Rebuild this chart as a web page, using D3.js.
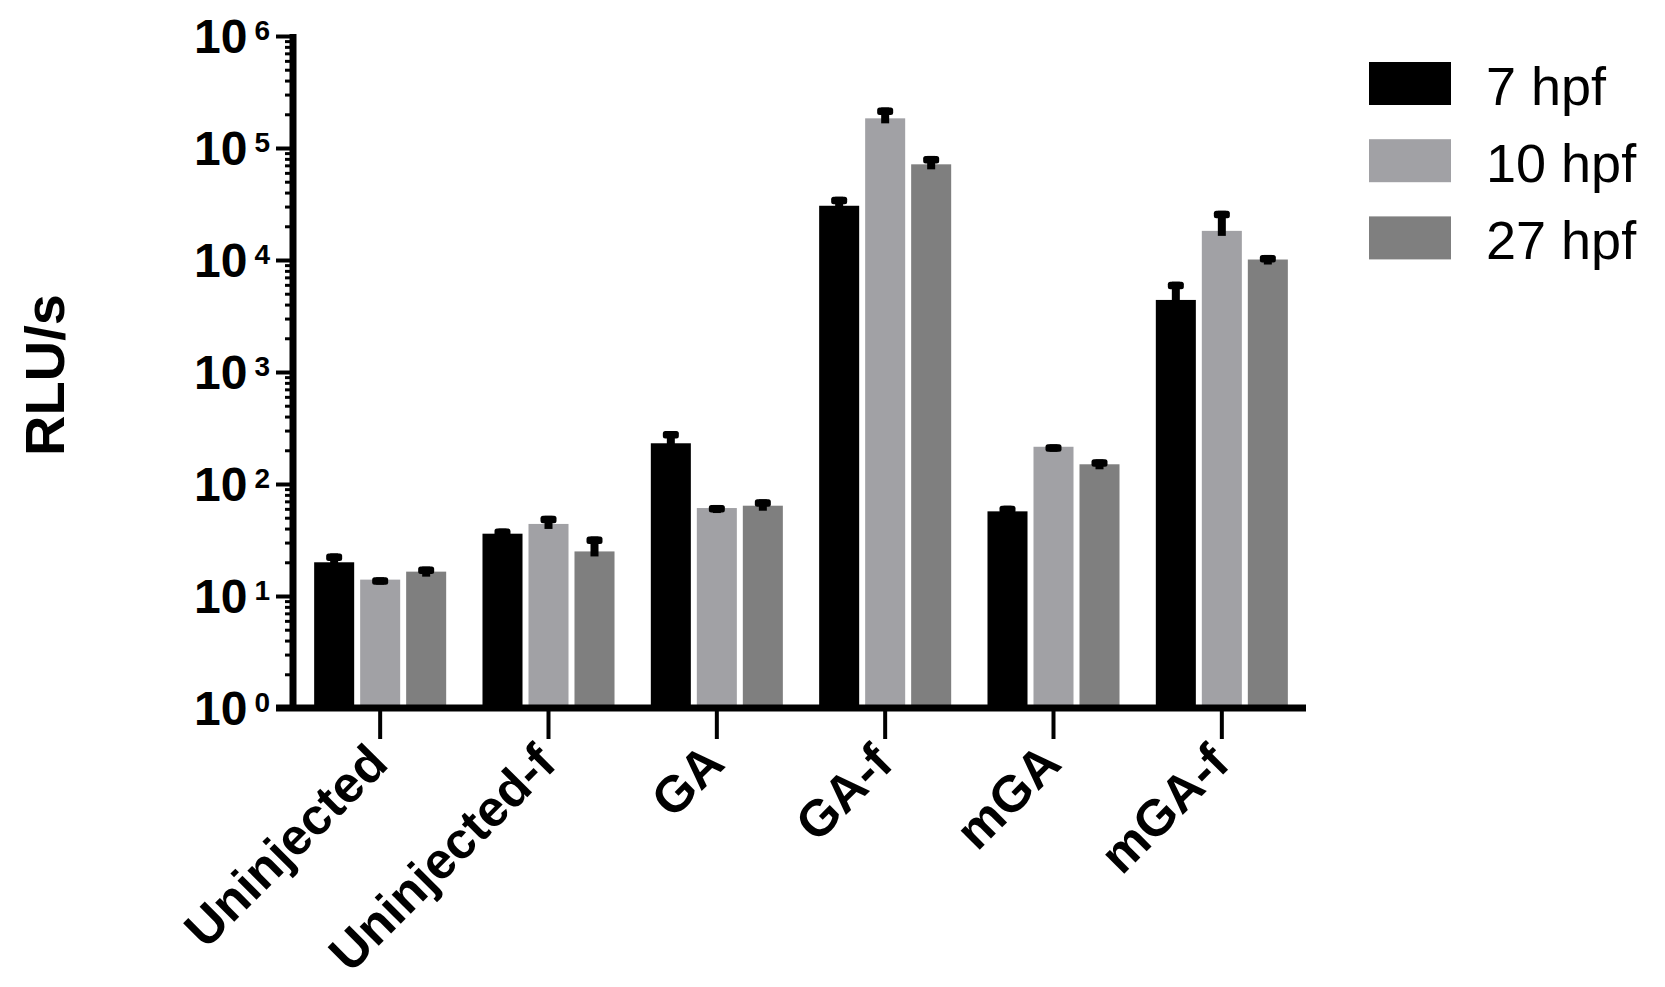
<!DOCTYPE html>
<html>
<head>
<meta charset="utf-8">
<script src="https://cdn.jsdelivr.net/npm/d3@7"></script>
<style>
  html, body { margin: 0; padding: 0; background: #fff; }
  svg { display: block; }
  text { font-family: "Liberation Sans", Arial, sans-serif; fill: #000; }
</style>
</head>
<body>
<svg id="chart" width="1665" height="987"></svg>
<script>
// ---- data ----
const categories = ["Uninjected", "Uninjected-f", "GA", "GA-f", "mGA", "mGA-f"];
const seriesNames = ["7 hpf", "10 hpf", "27 hpf"];
const values7  = [20, 36, 231, 30500, 57, 4400];
const values10 = [14, 44, 61, 184000, 215, 18200];
const values27 = [16.5, 25, 64, 71500, 150, 10100];
const errors7  = [4, 4, 66, 6200, 7, 2000];
const errors10 = [0.7, 8, 4, 46000, 11, 9300];
const errors27 = [1.8, 9, 9, 13500, 16, 1000];
const yTickValues = [1, 10, 100, 1000, 10000, 100000, 1000000];
const yTickExponents = ["0", "1", "2", "3", "4", "5", "6"];
const seriesColors = ["#000000", "#a1a1a5", "#7f7f7f"];

const seriesValues = [values7, values10, values27];
const seriesErrors = [errors7, errors10, errors27];
const rows = [];
categories.forEach((c, i) => {
  seriesNames.forEach((s, j) => {
    rows.push({ cat: c, series: s, si: j, value: seriesValues[j][i], err: seriesErrors[j][i] });
  });
});

// ---- layout ----
const svg = d3.select("#chart");
svg.append("rect").attr("width", 1665).attr("height", 987).attr("fill", "#fff");

const axisX = 293, axisY = 708, plotTop = 36, plotRight = 1306;

const x = d3.scaleBand().domain(categories).range([axisX + 3, plotRight])
  .paddingInner(0.2157).paddingOuter(0.2157 / 2);
const xs = d3.scaleBand().domain(seriesNames).range([0, x.bandwidth()]).paddingInner(0.13);
const y = d3.scaleLog().domain([1, 1e6]).range([axisY, plotTop]);
const color = d3.scaleOrdinal().domain(seriesNames).range(seriesColors);

// bars
svg.append("g").selectAll("rect").data(rows).join("rect")
  .attr("x", d => x(d.cat) + xs(d.series))
  .attr("width", xs.bandwidth())
  .attr("y", d => y(d.value))
  .attr("height", d => axisY - y(d.value))
  .attr("fill", d => color(d.series));

// error bars
const eg = svg.append("g");
rows.forEach(d => {
  const cx = x(d.cat) + xs(d.series) + xs.bandwidth() / 2;
  const yTop = y(d.value + d.err);
  const yVal = y(d.value);
  eg.append("rect").attr("x", cx - 4).attr("width", 8)
    .attr("y", yTop).attr("height", Math.max(0, yVal + 5 - yTop)).attr("fill", "#000");
  eg.append("rect").attr("x", cx - 8).attr("width", 16)
    .attr("y", yTop).attr("height", 7.5).attr("rx", 2.5).attr("fill", "#000");
});

// minor y ticks
const minorTicks = [];
for (let k = 0; k < 6; k++) for (let m = 2; m <= 9; m++) minorTicks.push(m * Math.pow(10, k));
const yMinor = svg.append("g").attr("transform", `translate(${axisX},0)`)
  .call(d3.axisLeft(y).tickValues(minorTicks).tickSize(8).tickSizeOuter(0).tickFormat(""));
yMinor.select(".domain").remove();
yMinor.selectAll(".tick line").attr("stroke", "#000").attr("stroke-width", 3);

// major y ticks + axis line
const yAxis = svg.append("g").attr("transform", `translate(${axisX},0)`)
  .call(d3.axisLeft(y).tickValues(yTickValues).tickSize(17).tickSizeOuter(0).tickFormat(""));
yAxis.select(".domain").attr("stroke", "#000").attr("stroke-width", 7)
  .attr("d", `M0,${plotTop - 2}V${axisY}`);
yAxis.selectAll(".tick line").attr("stroke", "#000").attr("stroke-width", 4);

// y tick labels with superscripts
const yl = svg.append("g");
yTickValues.forEach((v, i) => {
  const t = yl.append("text")
    .attr("x", 270).attr("y", y(v) + 17)
    .attr("text-anchor", "end")
    .attr("font-weight", "bold").attr("font-size", 48);
  t.append("tspan").text("10");
  t.append("tspan").attr("dx", 7).attr("dy", -13).attr("font-size", 28).text(yTickExponents[i]);
});

// x axis
const xAxis = svg.append("g").attr("transform", `translate(0,${axisY})`)
  .call(d3.axisBottom(x).tickSize(31).tickSizeOuter(0).tickFormat(""));
xAxis.select(".domain").attr("stroke", "#000").attr("stroke-width", 7)
  .attr("d", `M276,0H${plotRight}`);
xAxis.selectAll(".tick line").attr("stroke", "#000").attr("stroke-width", 4);

// x labels rotated
svg.append("g").selectAll("text").data(categories).join("text")
  .attr("text-anchor", "end")
  .attr("font-weight", "bold").attr("font-size", 51)
  .attr("transform", d => `translate(${x(d) + x.bandwidth() / 2 + 10},${axisY + 58}) rotate(-45)`)
  .text(d => d);

// y title
svg.append("text")
  .attr("transform", "translate(64,375) rotate(-90)")
  .attr("text-anchor", "middle")
  .attr("font-weight", "bold").attr("font-size", 56)
  .text("RLU/s");

// legend
const lg = svg.append("g");
seriesNames.forEach((s, i) => {
  const top = 62 + i * 77.2;
  lg.append("rect").attr("x", 1369).attr("y", top).attr("width", 82).attr("height", 43)
    .attr("fill", color(s));
  lg.append("text").attr("x", 1486).attr("y", top + 43)
    .attr("font-size", 54).text(s);
});
</script>
</body>
</html>
